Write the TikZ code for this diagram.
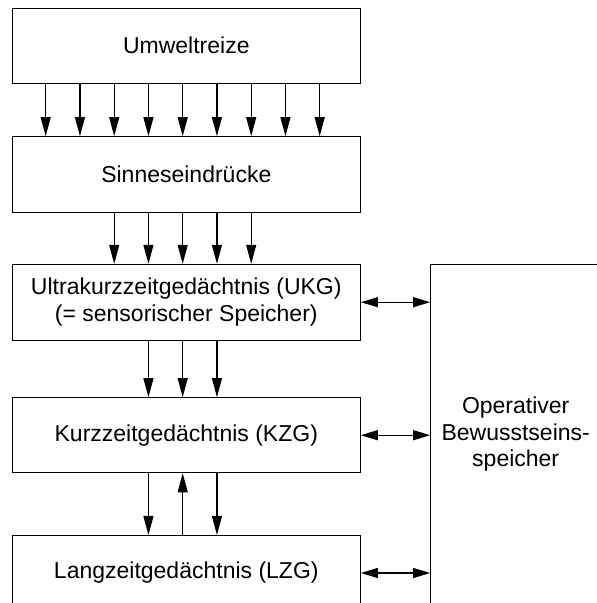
\documentclass[tikz,border=0pt]{standalone}
\usepackage{fontspec}
\setmainfont{Liberation Sans}
\usetikzlibrary{arrows.meta}

\begin{document}
\begin{tikzpicture}[x=1pt,y=-1pt,
    kasten/.style={draw, line width=1.1pt, minimum width=348pt, minimum height=75pt,
      inner sep=0pt, align=center, font=\fontsize{23}{26.7}\selectfont},
    pfeil/.style={line width=1.1pt, -{Triangle[length=19pt,width=10pt]}},
    doppel/.style={line width=1.1pt, {Triangle[length=17pt,width=10pt]}-{Triangle[length=17pt,width=10pt]}}]
            \clip (0,0) rectangle (597,603);
            \node[kasten, minimum height=74.7pt] (umwelt) at (186.3,45.7) {Umweltreize};
            \node[kasten, minimum height=75.6pt] (sinne) at (186.3,174.5) {Sinneseindrücke};
            \node[kasten, minimum height=75.7pt] (ukg) at (186.3,302.2) {Ultrakurzzeitgedächtnis (UKG)\\(= sensorischer Speicher)};
            \node[kasten] (kzg) at (186.3,435.2) {Kurzzeitgedächtnis (KZG)};
            \node[kasten] (lzg) at (186.3,573) {Langzeitgedächtnis (LZG)};
            \node[kasten, minimum width=170pt, minimum height=339.7pt] (bewusst) at (515.7,434.2) {Operativer\\Bewusstseins-\\speicher};
            % Umweltreize -> Sinneseindruecke
            \draw[pfeil] ([xshift=-140.6pt]umwelt.south) -- ([xshift=-140.6pt]sinne.north);
            \draw[pfeil] ([xshift=-106.35pt]umwelt.south) -- ([xshift=-106.35pt]sinne.north);
            \draw[pfeil] ([xshift=-72.1pt]umwelt.south) -- ([xshift=-72.1pt]sinne.north);
            \draw[pfeil] ([xshift=-37.85pt]umwelt.south) -- ([xshift=-37.85pt]sinne.north);
            \draw[pfeil] ([xshift=-3.6pt]umwelt.south) -- ([xshift=-3.6pt]sinne.north);
            \draw[pfeil] ([xshift=30.65pt]umwelt.south) -- ([xshift=30.65pt]sinne.north);
            \draw[pfeil] ([xshift=64.9pt]umwelt.south) -- ([xshift=64.9pt]sinne.north);
            \draw[pfeil] ([xshift=99.15pt]umwelt.south) -- ([xshift=99.15pt]sinne.north);
            \draw[pfeil] ([xshift=133.4pt]umwelt.south) -- ([xshift=133.4pt]sinne.north);
            % Sinneseindruecke -> UKG
            \draw[pfeil] ([xshift=-72.1pt]sinne.south) -- ([xshift=-72.1pt]ukg.north);
            \draw[pfeil] ([xshift=-37.85pt]sinne.south) -- ([xshift=-37.85pt]ukg.north);
            \draw[pfeil] ([xshift=-3.6pt]sinne.south) -- ([xshift=-3.6pt]ukg.north);
            \draw[pfeil] ([xshift=30.65pt]sinne.south) -- ([xshift=30.65pt]ukg.north);
            \draw[pfeil] ([xshift=64.9pt]sinne.south) -- ([xshift=64.9pt]ukg.north);
            % UKG -> KZG
            \draw[pfeil] ([xshift=-37.85pt]ukg.south) -- ([xshift=-37.85pt]kzg.north);
            \draw[pfeil] ([xshift=-3.6pt]ukg.south) -- ([xshift=-3.6pt]kzg.north);
            \draw[pfeil] ([xshift=30.65pt]ukg.south) -- ([xshift=30.65pt]kzg.north);
            % KZG <-> LZG
            \draw[pfeil] ([xshift=-37.85pt]kzg.south) -- ([xshift=-37.85pt]lzg.north);
            \draw[pfeil] ([xshift=-3.6pt]lzg.north) -- ([xshift=-3.6pt]kzg.south);
            \draw[pfeil] ([xshift=30.65pt]kzg.south) -- ([xshift=30.65pt]lzg.north);
            % zum Bewusstseinsspeicher
            \draw[doppel] (ukg.east) -- (ukg.east -| bewusst.west);
            \draw[doppel] (kzg.east) -- (kzg.east -| bewusst.west);
            \draw[doppel] (lzg.east) -- (lzg.east -| bewusst.west);
        \end{tikzpicture}
\end{document}
